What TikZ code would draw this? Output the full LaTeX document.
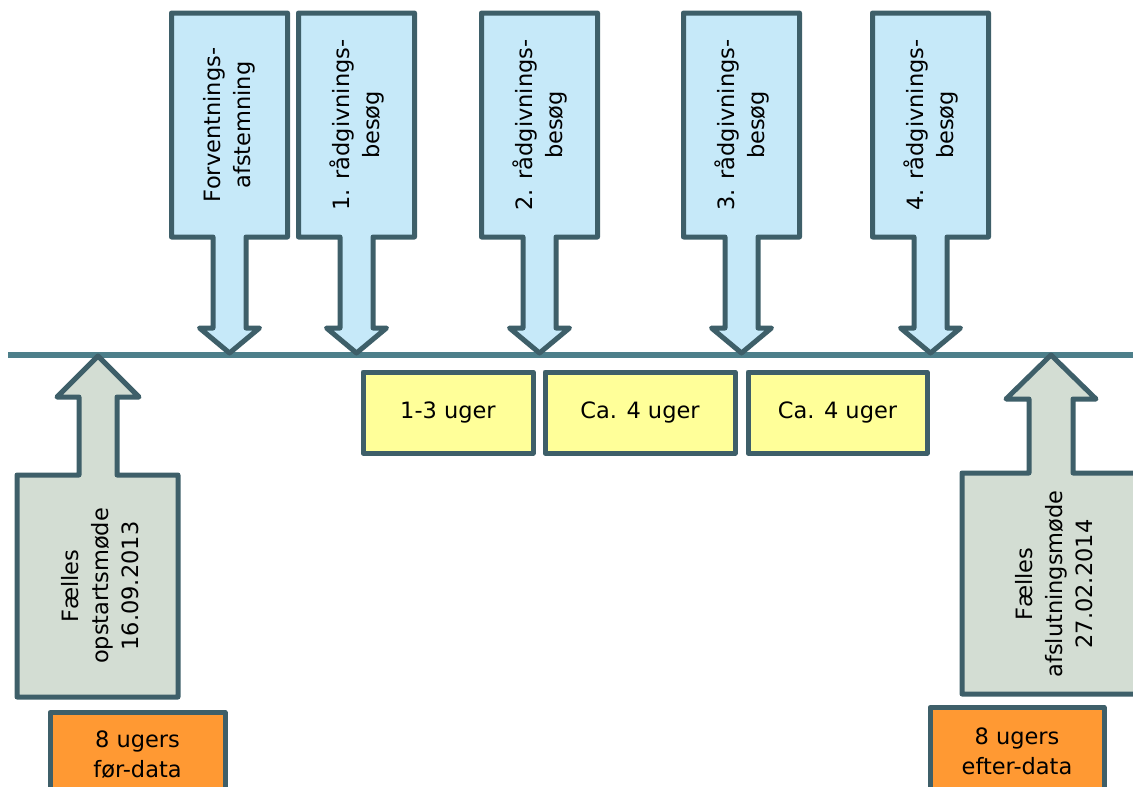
\documentclass[tikz,border=0pt]{standalone}
\usepackage{fontspec}
\setmainfont{DejaVu Sans}
\definecolor{edgecol}{HTML}{3E5F69}
\definecolor{linecol}{HTML}{4D7F8A}
\definecolor{bluefill}{HTML}{C6E9F9}
\definecolor{greyfill}{HTML}{D3DDD3}
\definecolor{yellowfill}{HTML}{FFFF99}
\definecolor{orangefill}{HTML}{FF9933}

\begin{document}
\begin{tikzpicture}[x=1pt,y=-1pt,
	every node/.style={font=\fontsize{22.5}{30}\selectfont, align=center, inner sep=0pt},
	outline/.style={draw=edgecol, line width=5pt, line join=round},
	visit/.style={outline, fill=bluefill},
	meeting/.style={outline, fill=greyfill},
	period/.style={outline, fill=yellowfill, minimum height=81, anchor=center},
	datablock/.style={outline, fill=orangefill, anchor=north},
	timeline/.style={draw=linecol, line width=6pt}]
	\useasboundingbox (0,0) rectangle (1133,787);
	\clip (0,0) rectangle (1133,787);
	\def \btop{ 13 };
	\def \bbot{ 237 };
	\def \hw{ 58 };
	\coordinate (tl0) at (8,355);
	\coordinate (tl1) at (1133,355);
	\draw[timeline] (tl0) -- (tl1);
	\foreach \c/\n/\t in {229.5/forv/{Forventnings-\\afstemning},
		356.5/visit1/{1. rådgivnings-\\besøg},
		539.5/visit2/{2. rådgivnings-\\besøg},
		741.5/visit3/{3. rådgivnings-\\besøg},
		930.5/visit4/{4. rådgivnings-\\besøg}}{
		\draw[visit] (\c-\hw,\btop) -- (\c+\hw,\btop) -- (\c+\hw,\bbot) -- (\c+16.5,\bbot) -- (\c+16.5,328) -- (\c+30,328) -- (\c,353) -- (\c-30,328) -- (\c-16.5,328) -- (\c-16.5,\bbot) -- (\c-\hw,\bbot) -- cycle;
		\node[rotate=90] (\n) at (\c,125) {\t};
	}
	\draw[meeting] (98,356) -- (139,397) -- (117,397) -- (117,475) -- (178,475) -- (178,697) -- (17,697) -- (17,475) -- (79,475) -- (79,397) -- (57,397) -- cycle;
	\node[rotate=90] (start) at (100,586) {Fælles\\opstartsmøde\\16.09.2013};
	\draw[meeting] (1051,355) -- (1096,399) -- (1073,399) -- (1073,473) -- (1140,473) -- (1140,694) -- (962,694) -- (962,473) -- (1029,473) -- (1029,399) -- (1006,399) -- cycle;
	\node[rotate=90] (slut) at (1054,584) {Fælles\\afslutningsmøde\\27.02.2014};
	\node[period, minimum width=170] (p1) at (448,412.5) {1-3 uger};
	\node[period, minimum width=190] (p2) at (640,412.5) {Ca. 4 uger};
	\node[period, minimum width=179] (p3) at (837.5,412.5) {Ca. 4 uger};
	\node[datablock, minimum width=175, minimum height=84] (before) at (137.5,710) {8 ugers\\før-data};
	\node[datablock, minimum width=174, minimum height=88] (after) at (1017,705) {8 ugers\\efter-data};
\end{tikzpicture}
\end{document}
